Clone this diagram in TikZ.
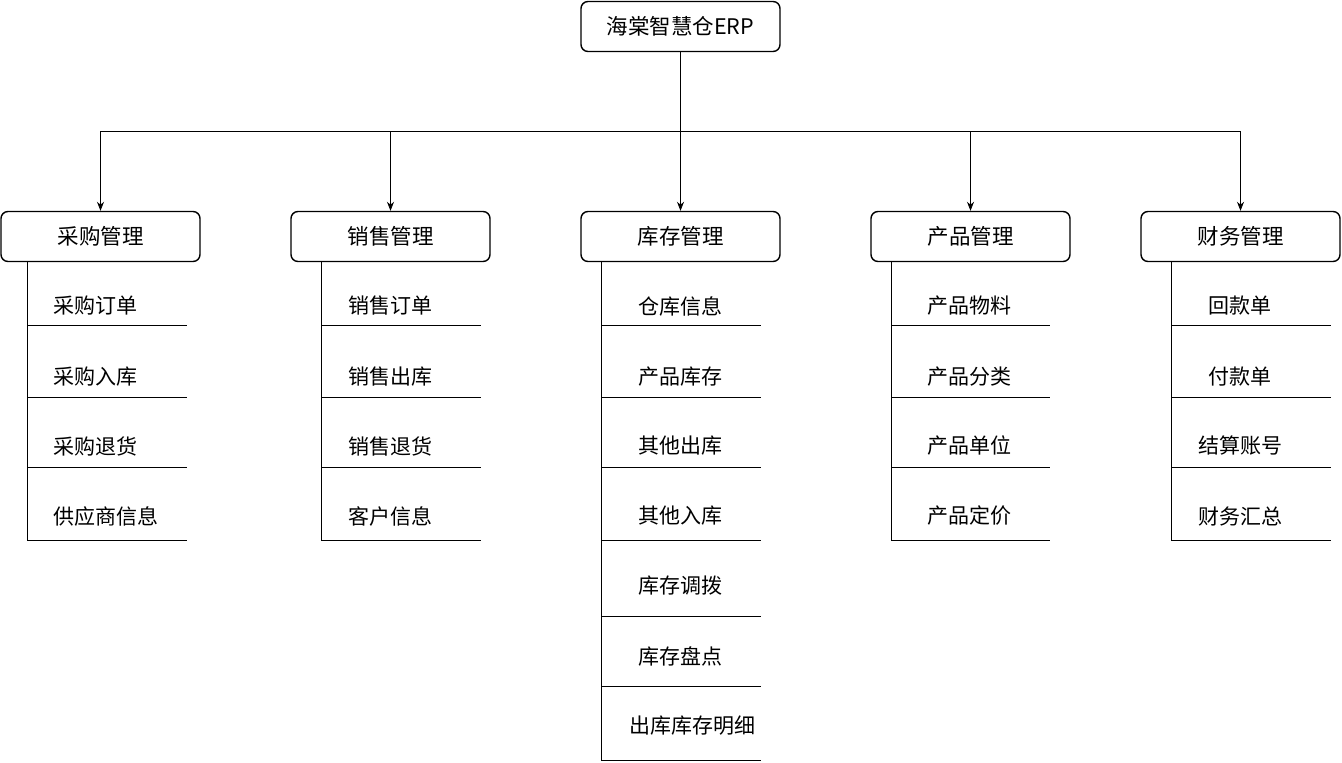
\documentclass[tikz,border=0pt]{standalone}
\usepackage{fontspec}
\setmainfont{Noto Sans CJK SC}
\usetikzlibrary{arrows.meta}
\begin{document}
\begin{tikzpicture}[x=1pt,y=-1pt,
  box/.style={draw,line width=1.4pt,rounded corners=7pt,minimum width=199pt,minimum height=50pt,inner sep=0pt,font=\fontsize{21.5}{25}\selectfont},
  item/.style={inner sep=0pt,font=\fontsize{21}{25}\selectfont},
  conn/.style={line width=0.8pt,-{Stealth[length=9pt,width=7pt]}},
  rule/.style={line width=0.8pt}]
\useasboundingbox (0,0) rectangle (1342,763);
\node[box] (top) at (680.5,26.5) {海棠智慧仓ERP};
\node[box] (b1) at (100.5,236.5) {采购管理};
\node[box] (b2) at (390.5,236.5) {销售管理};
\node[box] (b3) at (680.5,236.5) {库存管理};
\node[box] (b4) at (970.5,236.5) {产品管理};
\node[box] (b5) at (1240.5,236.5) {财务管理};
\coordinate (bus) at (680.5,131);
\draw[rule] (top.south) -- (bus);
\foreach \b in {b1,b2,b3,b4,b5}{
  \draw[conn] (bus) -| (\b.north);
}
% column 1
\draw[rule] (27,261) -- (27,540);
\foreach \y in {325,397,467,540}{\draw[rule] (27,\y) -- (187,\y);}
\node[item,anchor=west] (c11) at (53,306) {采购订单};
\node[item,anchor=west] (c12) at (53,377) {采购入库};
\node[item,anchor=west] (c13) at (53,446) {采购退货};
\node[item,anchor=west] (c14) at (53,516) {供应商信息};
% column 2
\draw[rule] (321,261) -- (321,540);
\foreach \y in {325,397,467,540}{\draw[rule] (321,\y) -- (481,\y);}
\node[item,anchor=west] (c21) at (348,306) {销售订单};
\node[item,anchor=west] (c22) at (348,377) {销售出库};
\node[item,anchor=west] (c23) at (348,446) {销售退货};
\node[item,anchor=west] (c24) at (348,516) {客户信息};
% column 3
\draw[rule] (601,261) -- (601,761);
\foreach \y in {325,397,467,540,616,686,760}{\draw[rule] (601,\y) -- (761,\y);}
\node[item] (c31) at (680,306) {仓库信息};
\node[item] (c32) at (680,377) {产品库存};
\node[item] (c33) at (680,446) {其他出库};
\node[item] (c34) at (680,516) {其他入库};
\node[item] (c35) at (680,586) {库存调拨};
\node[item] (c36) at (680,656) {库存盘点};
\node[item] (c37) at (692,726) {出库库存明细};
% column 4
\draw[rule] (891,261) -- (891,540);
\foreach \y in {325,397,467,540}{\draw[rule] (891,\y) -- (1050,\y);}
\node[item] (c41) at (969,306) {产品物料};
\node[item] (c42) at (969,377) {产品分类};
\node[item] (c43) at (969,446) {产品单位};
\node[item] (c44) at (969,516) {产品定价};
% column 5
\draw[rule] (1171,261) -- (1171,540);
\foreach \y in {325,397,467,540}{\draw[rule] (1171,\y) -- (1331,\y);}
\node[item] (c51) at (1240,306) {回款单};
\node[item] (c52) at (1240,377) {付款单};
\node[item] (c53) at (1240,446) {结算账号};
\node[item] (c54) at (1240,516) {财务汇总};
\end{tikzpicture}
\end{document}
